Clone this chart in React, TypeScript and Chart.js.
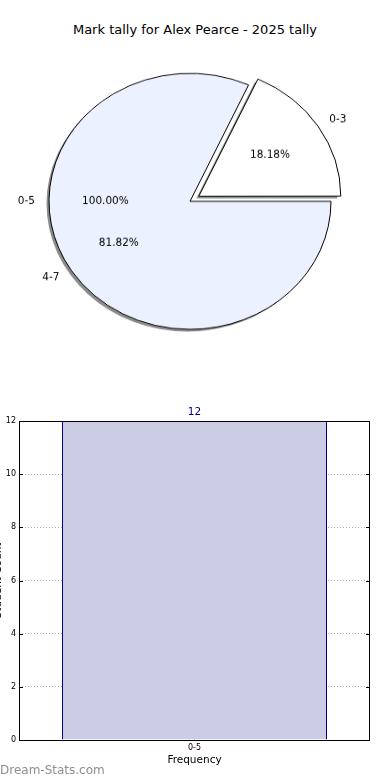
import React, { useEffect, useRef } from "react";
import { Chart, registerables } from "chart.js";

Chart.register(...registerables);

const TITLE = "Mark tally for Alex Pearce - 2025 tally";
const pieLabels = ["0-3", "4-7"];
const pieValues = [2, 9];
const pieColors = ["#ffffff", "#ebf1fe"];
const pieExplode = [42, 0];
const overlayLabels = ["0-5"];
const overlayValues = [12];
const barLabels = ["0-5"];
const barValues = [12];
const yTickMin = 0;
const yTickMax = 12;
const yTickStep = 2;
const X_TITLE = "Frequency";
const Y_TITLE = "Student Count";
const WATERMARK = "Dream-Stats.com";

const FONT = "'DejaVu Sans', 'Liberation Sans', sans-serif";
const SQUASH = 128 / 141;

function drawText(ctx: CanvasRenderingContext2D, text: string, x: number, y: number, align: CanvasTextAlign) {
  ctx.save();
  ctx.translate(x, y);
  ctx.scale(1, 1 / SQUASH);
  ctx.textAlign = align;
  ctx.textBaseline = "middle";
  ctx.fillText(text, 0, 0);
  ctx.restore();
}

const piePlugin = {
  id: "pieExtras",
  beforeDatasetsDraw(chart: any) {
    const meta = chart.getDatasetMeta(0);
    const ctx = chart.ctx as CanvasRenderingContext2D;
    ctx.save();
    ctx.fillStyle = "rgba(0,0,0,0.45)";
    meta.data.forEach((arc: any) => {
      const { x, y, startAngle, endAngle, outerRadius } = arc;
      const off = (arc.options.offset || 0) / 4;
      const mid = (startAngle + endAngle) / 2;
      const cx = x + Math.cos(mid) * off - 2.5;
      const cy = y + Math.sin(mid) * off + 2.5;
      ctx.beginPath();
      ctx.moveTo(cx, cy);
      ctx.arc(cx, cy, outerRadius, startAngle, endAngle);
      ctx.closePath();
      ctx.fill();
    });
    ctx.restore();
  },
  afterDatasetsDraw(chart: any) {
    const meta = chart.getDatasetMeta(0);
    const ctx = chart.ctx as CanvasRenderingContext2D;
    ctx.save();
    ctx.fillStyle = "#000";
    ctx.font = `10.5px ${FONT}`;
    const total = pieValues.reduce((a, b) => a + b, 0);
    const order = pieLabels.map((_, i) => i).reverse();
    let R = 0;
    let CX = 0;
    let CY = 0;
    meta.data.forEach((arc: any, j: number) => {
      const i = order[j];
      const { x, y, startAngle, endAngle, outerRadius } = arc;
      R = outerRadius;
      CX = x;
      CY = y;
      const off = (arc.options.offset || 0) / 4;
      const mid = (startAngle + endAngle) / 2;
      const c = Math.cos(mid);
      const s = Math.sin(mid);
      const ox = x + c * off;
      const oy = y + s * off;
      const lx = ox + c * R * 1.1;
      const ly = oy + s * R * 1.1;
      drawText(ctx, pieLabels[i], lx, ly, c >= 0 ? "left" : "right");
      const pct = ((pieValues[i] / total) * 100).toFixed(2) + "%";
      drawText(ctx, pct, ox + c * R * 0.6, oy + s * R * 0.6, "center");
    });
    // overlay (second) pie labels, matplotlib-style: start at east, counter-clockwise
    const oTotal = overlayValues.reduce((a, b) => a + b, 0);
    let cum = 0;
    overlayValues.forEach((v, i) => {
      const midFrac = (cum + v / 2) / oTotal;
      cum += v;
      const ang = -midFrac * Math.PI * 2;
      const c = Math.cos(ang);
      const s = Math.sin(ang);
      drawText(ctx, overlayLabels[i], CX + c * R * 1.1, CY + s * R * 1.1, c >= 0 ? "left" : "right");
      const pct = ((v / oTotal) * 100).toFixed(2) + "%";
      drawText(ctx, pct, CX + c * R * 0.6, CY + s * R * 0.6, "center");
    });
    ctx.restore();
  },
};

const barPlugin = {
  id: "barExtras",
  afterDraw(chart: any) {
    const ctx = chart.ctx as CanvasRenderingContext2D;
    const { left, top, right, bottom } = chart.chartArea;
    ctx.save();
    ctx.strokeStyle = "#000";
    ctx.lineWidth = 1;
    ctx.strokeRect(Math.round(left) + 0.5, Math.round(top) + 0.5, Math.round(right - left) - 1, Math.round(bottom - top));
    // small inward tick marks like matplotlib
    const ys = chart.scales.y;
    ctx.lineWidth = 1;
    for (let v = yTickMin; v <= yTickMax; v += yTickStep) {
      const py = Math.round(ys.getPixelForValue(v)) + 0.5;
      ctx.beginPath();
      ctx.moveTo(left, py);
      ctx.lineTo(left + 4, py);
      ctx.moveTo(right, py);
      ctx.lineTo(right - 4, py);
      ctx.stroke();
    }
    const meta = chart.getDatasetMeta(0);
    ctx.fillStyle = "#000080";
    ctx.font = `10.5px ${FONT}`;
    ctx.textAlign = "center";
    ctx.textBaseline = "middle";
    meta.data.forEach((bar: any, i: number) => {
      ctx.fillText(String(barValues[i]), bar.x, bar.y - 9);
    });
    ctx.restore();
  },
};

export default function App() {
  const pieRef = useRef<HTMLCanvasElement>(null);
  const barRef = useRef<HTMLCanvasElement>(null);

  useEffect(() => {
    const pie = new Chart(pieRef.current!, {
      type: "pie",
      data: {
        labels: [...pieLabels].reverse(),
        datasets: [
          {
            data: [...pieValues].reverse(),
            backgroundColor: [...pieColors].reverse(),
            borderColor: "#000",
            borderWidth: 1,
            offset: [...pieExplode].reverse(),
          } as any,
        ],
      },
      options: {
        responsive: false,
        animation: false,
        events: [],
        rotation: 90,
        radius: 141,
        layout: { padding: { left: 0, right: 10, top: 0, bottom: 0 } },
        plugins: { legend: { display: false }, tooltip: { enabled: false } },
      } as any,
      plugins: [piePlugin],
    });

    const bar = new Chart(barRef.current!, {
      type: "bar",
      data: {
        labels: barLabels,
        datasets: [
          {
            data: barValues,
            backgroundColor: "#ccccE5",
            borderColor: "#00008b",
            borderWidth: 1,
            borderSkipped: "bottom",
            barPercentage: 0.755,
            categoryPercentage: 1,
          } as any,
        ],
      },
      options: {
        responsive: false,
        animation: false,
        events: [],
        layout: { padding: { top: 21, right: 20, left: 0, bottom: 0 } },
        plugins: { legend: { display: false }, tooltip: { enabled: false } },
        scales: {
          x: {
            z: 1,
            afterFit: (s: any) => {
              s.height = 40;
            },
            grid: { offset: false, color: "rgba(0,0,0,0.3)", drawTicks: false, lineWidth: 1 },
            border: { display: false, dash: [1, 2] },
            ticks: { color: "#000", font: { family: FONT, size: 8 }, padding: 3 },
            title: {
              display: true,
              text: X_TITLE,
              color: "#000",
              font: { family: FONT, size: 10.5 },
              padding: { top: 0, bottom: 13 },
            },
          },
          y: {
            z: 1,
            min: yTickMin,
            max: yTickMax,
            afterFit: (s: any) => {
              s.width = 29;
            },
            grid: { color: "rgba(0,0,0,0.3)", drawTicks: false, lineWidth: 1 },
            border: { display: false, dash: [1, 2] },
            ticks: { stepSize: yTickStep, color: "#000", font: { family: FONT, size: 8 }, padding: 3 },
            title: {
              display: true,
              text: Y_TITLE,
              color: "#000",
              font: { family: FONT, size: 10.5 },
              padding: { top: 1.5, bottom: 0 },
            },
          },
        },
      } as any,
      plugins: [barPlugin],
    });

    return () => {
      pie.destroy();
      bar.destroy();
    };
  }, []);

  return (
    <div style={{ position: "absolute", left: 0, top: 0, width: 390, height: 780, overflow: "hidden", background: "#fff" }}>
      <div
        style={{
          position: "absolute",
          left: 0,
          top: 22,
          width: 390,
          textAlign: "center",
          fontFamily: FONT,
          fontSize: 13,
          lineHeight: "16px",
          color: "#000",
        }}
      >
        {TITLE}
      </div>
      <div
        style={{
          position: "absolute",
          left: 0,
          top: 46.7,
          width: 390,
          height: 340,
          transform: `scaleY(${SQUASH})`,
          transformOrigin: "0 0",
        }}
      >
        <canvas ref={pieRef} width={390} height={340} style={{ display: "block", width: 390, height: 340 }} />
      </div>
      <canvas
        ref={barRef}
        width={400}
        height={380}
        style={{ position: "absolute", left: -10, top: 400, width: 400, height: 380, display: "block" }}
      />
      <div
        style={{
          position: "absolute",
          left: 0,
          top: 762,
          fontFamily: FONT,
          fontSize: 12,
          lineHeight: "16px",
          color: "#8f8f8f",
        }}
      >
        {WATERMARK}
      </div>
    </div>
  );
}
